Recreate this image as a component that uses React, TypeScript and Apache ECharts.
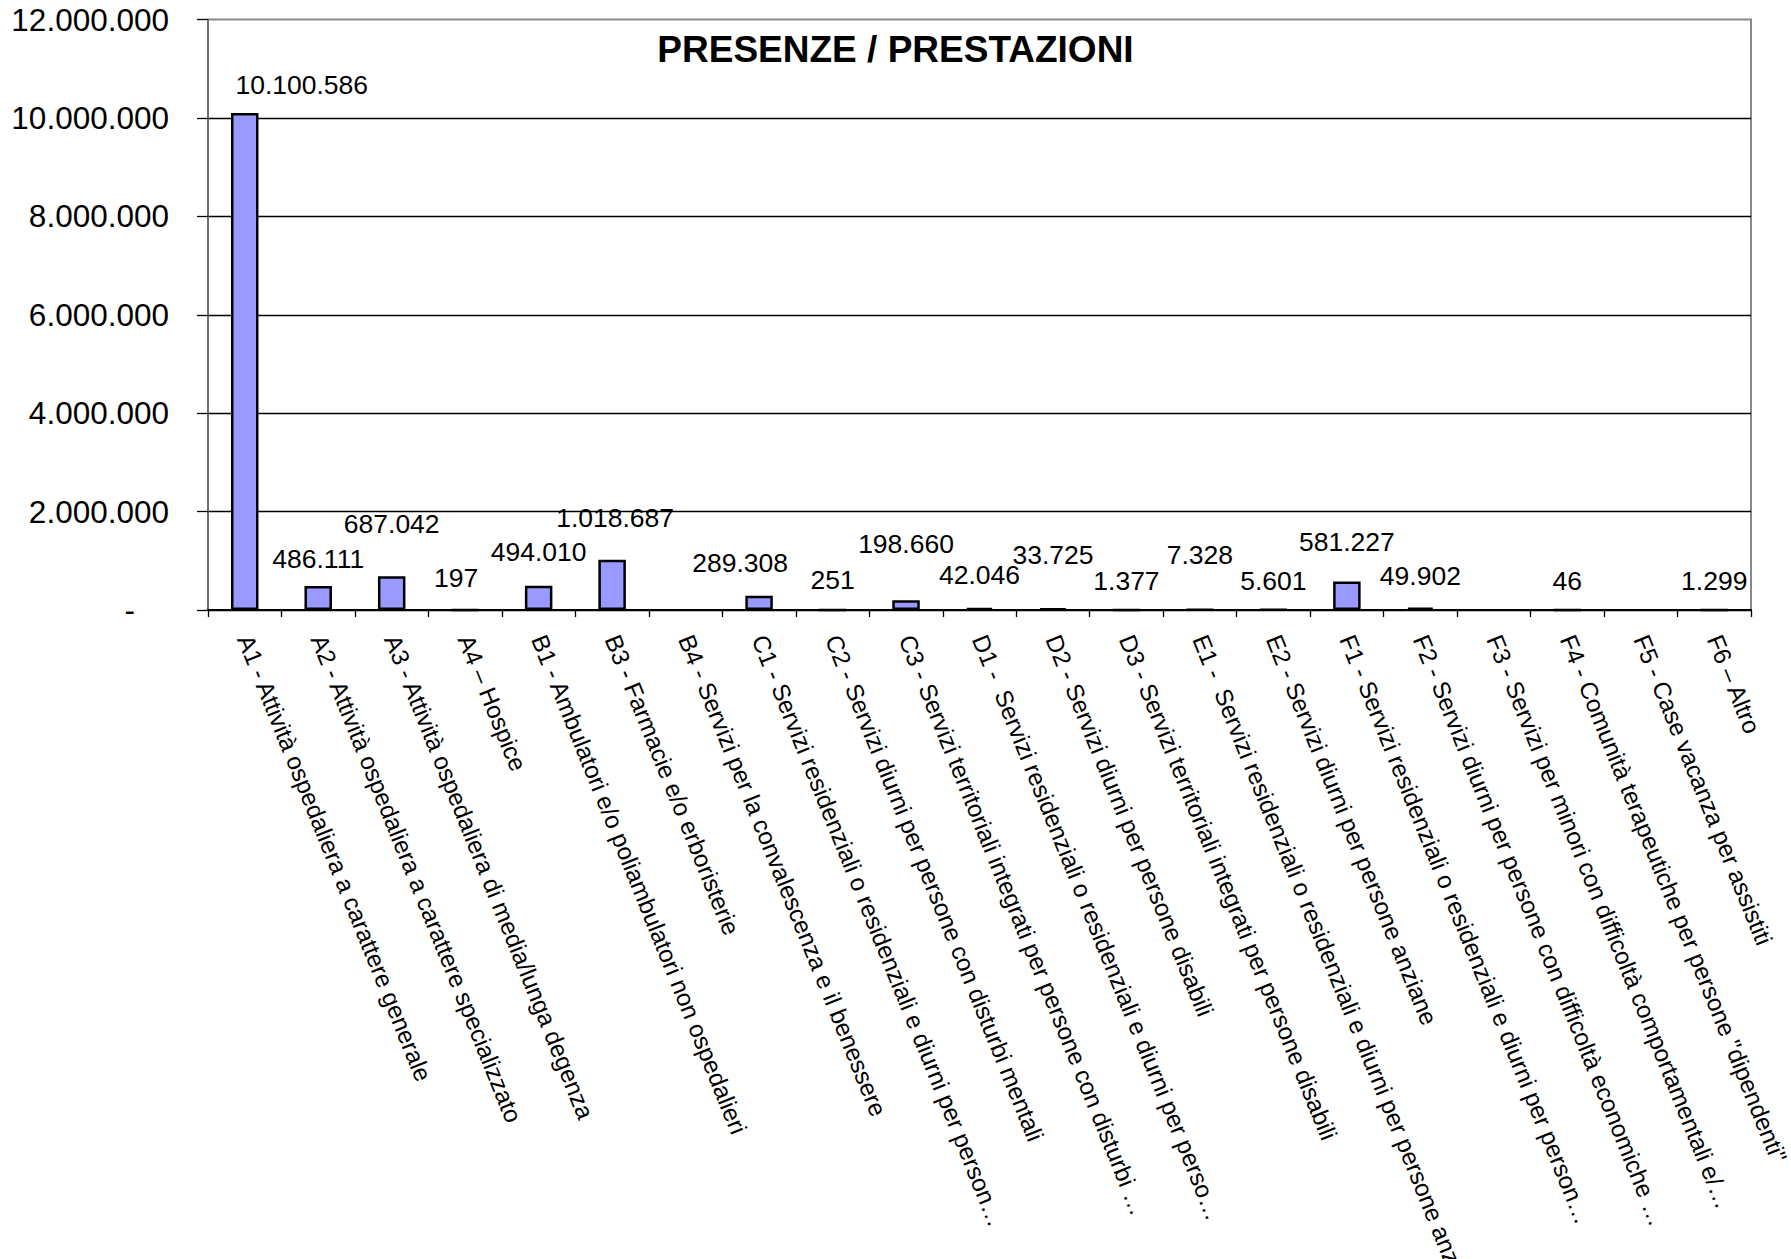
import React, { useEffect, useRef } from 'react';
import * as echarts from 'echarts';

const categories: string[] = [
  'A1 - Attività ospedaliera a carattere generale',
  'A2 - Attività ospedaliera a carattere specializzato',
  'A3 - Attività ospedaliera di media/lunga degenza',
  'A4 – Hospice',
  'B1 - Ambulatori e/o poliambulatori non ospedalieri',
  'B3 - Farmacie e/o erboristerie',
  'B4 - Servizi per la convalescenza e il benessere',
  'C1 - Servizi residenziali o residenziali e diurni per person…',
  'C2 - Servizi diurni per persone con disturbi mentali',
  'C3 - Servizi territoriali integrati per persone con disturbi …',
  'D1 -  Servizi residenziali o residenziali e diurni per perso…',
  'D2 - Servizi diurni per persone disabili',
  'D3 - Servizi territoriali integrati per persone disabili',
  'E1 -  Servizi residenziali o residenziali e diurni per persone anziane',
  'E2 - Servizi diurni per persone anziane',
  'F1 - Servizi residenziali o residenziali e diurni per person…',
  'F2 - Servizi diurni per persone con difficoltà economiche …',
  'F3 - Servizi per minori con difficoltà comportamentali e/…',
  'F4 - Comunità terapeutiche per persone "dipendenti"',
  'F5 - Case vacanza per assistiti',
  'F6 – Altro',
];

const values: (number | null)[] = [
  10100586, 486111, 687042, 197, 494010, 1018687, null, 289308, 251, 198660,
  42046, 33725, 1377, 7328, 5601, 581227, 49902, null, 46, null, 1299,
];

const titleText = 'PRESENZE / PRESTAZIONI';
const yMin = 0;
const yMax = 12000000;
const yInterval = 2000000;

// label placement tweaks (styling only)
const labelShiftX: number[] = [57, 0, 0, -9, 0, 3, 0, -19, 0, 0, 0, 0, 0, 0, 0, 0, 0, 0, 0, 0, 0];
const labelLift: number[] = [0, 0, 25, 3, 6, 14, 0, 5, 1, 29, 5, 25, 0, 26, 0, 12, 4, 0, 0, 0, 0];

const FONT = '"Liberation Sans", Arial, sans-serif';

const fmt = (v: number): string =>
  String(Math.round(v)).replace(/\B(?=(\d{3})+(?!\d))/g, '.');

export default function App() {
  const ref = useRef<HTMLDivElement>(null);
  useEffect(() => {
    if (!ref.current) return;
    const chart = echarts.init(ref.current, undefined, { renderer: 'svg' });
    chart.setOption({
      animation: false,
      backgroundColor: '#fff',
      textStyle: { fontFamily: FONT },
      title: {
        text: titleText,
        left: 'center',
        top: 31,
        padding: 0,
        textStyle: { fontSize: 37, fontWeight: 'bold', color: '#000', fontFamily: FONT },
      },
      grid: {
        left: 208,
        right: 40,
        top: 19.5,
        bottom: 649,
        containLabel: false,
        outerBoundsMode: 'none',
        show: true,
        borderColor: '#888',
        borderWidth: 2,
        backgroundColor: 'transparent',
      },
      xAxis: {
        type: 'category',
        data: categories,
        axisLine: { show: true, lineStyle: { color: '#000', width: 2 } },
        axisTick: { show: true, length: 7, alignWithLabel: false, lineStyle: { color: '#000', width: 1.3 } },
        axisLabel: {
          interval: 0,
          rotate: -68,
          fontSize: 24.3,
          color: '#000',
          margin: 26,
          fontFamily: FONT,
        },
      },
      yAxis: {
        type: 'value',
        min: yMin,
        max: yMax,
        interval: yInterval,
        axisLine: { show: true, lineStyle: { color: '#666', width: 1.5 } },
        axisTick: { show: true, length: 11, lineStyle: { color: '#000', width: 1.3 } },
        splitLine: { show: true, showMaxLine: false, lineStyle: { color: '#000', width: 1.3 } },
        axisLabel: {
          fontSize: 31.5,
          color: '#000',
          margin: 39,
          fontFamily: FONT,
          formatter: (v: number) => (v === 0 ? '{dash|-}' : fmt(v)),
          rich: {
            dash: { fontSize: 31.5, color: '#000', fontFamily: FONT, padding: [0, 34, 0, 0] },
          },
        },
      },
      series: [
        {
          type: 'bar',
          barWidth: 27.5,
          data: values.map((v, i) =>
            v == null
              ? null
              : { value: v, label: { offset: [labelShiftX[i], -labelLift[i]] } }
          ),
          itemStyle: { color: '#9999FF', borderColor: '#000', borderWidth: 2.5 },
          label: {
            show: true,
            position: 'top',
            distance: 14,
            fontSize: 26.5,
            color: '#000',
            fontFamily: FONT,
            formatter: (p: any) => fmt(p.value),
          },
        },
      ],
    });
    return () => chart.dispose();
  }, []);
  return (
    <div
      ref={ref}
      style={{ position: 'fixed', left: 0, top: 0, width: 1791, height: 1259, background: '#fff' }}
    />
  );
}
